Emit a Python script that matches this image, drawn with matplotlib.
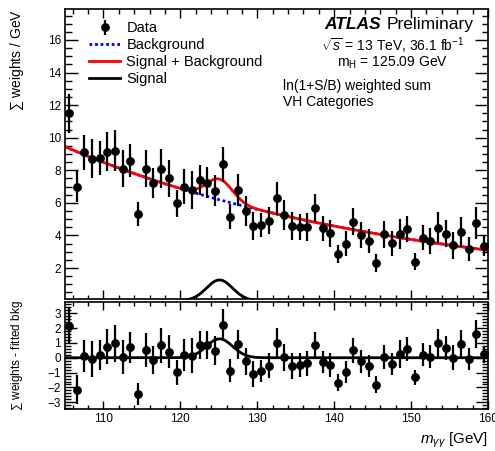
import numpy as np
import matplotlib
matplotlib.use("agg")
import matplotlib.pyplot as plt
from matplotlib.ticker import MultipleLocator

plt.rcParams["font.family"] = ["Liberation Sans", "DejaVu Sans"]
plt.rcParams["mathtext.fontset"] = "custom"
plt.rcParams["mathtext.rm"] = "Liberation Sans"
plt.rcParams["mathtext.it"] = "Liberation Sans:italic"
plt.rcParams["mathtext.bf"] = "Liberation Sans:bold"

# bin centres (1 GeV bins) and weighted sums
mass = np.arange(105.5, 160.0, 1.0)
weights = [11.5, 7.0, 9.1, 8.7, 8.75, 9.15, 9.2, 8.1, 8.6, 5.3,
           8.1, 7.25, 8.1, 7.5, 5.97, 7.0, 6.8, 7.38, 7.24, 6.75,
           8.37, 5.15, 6.8, 5.52, 4.58, 4.64, 4.9, 6.28, 5.25, 4.58,
           4.52, 4.52, 5.7, 4.44, 4.13, 2.86, 3.5, 4.85, 4.03, 3.66,
           2.3, 4.07, 3.52, 4.1, 4.4, 2.39, 3.86, 3.66, 4.48, 4.1,
           3.39, 4.23, 3.17, 4.78, 3.35]
errors = [1.18, 0.97, 1.07, 1.2, 1.02, 1.18, 1.25, 1.12, 1.04, 0.74,
          1.15, 0.92, 1.18, 1.12, 0.82, 1.07, 1.18, 0.92, 0.95, 0.95,
          1.06, 0.77, 0.97, 0.92, 0.87, 0.72, 0.82, 1.02, 0.92, 0.87,
          0.78, 0.86, 0.87, 0.76, 0.82, 0.56, 0.75, 0.82, 0.77, 0.74,
          0.56, 0.82, 0.75, 0.94, 0.8, 0.53, 0.77, 0.77, 0.97, 0.82,
          0.82, 0.92, 0.72, 0.97, 0.6]

# fitted shapes: bkg = exp(p0 + p1*t + p2*t^2), t = m - 105 ; signal gaussian
bkg_pars = [2.246, -0.0215, 2.22e-5]
sig_amp, sig_mean, sig_width = 1.27, 125.09, 1.7


def bkg(m):
    t = np.asarray(m) - 105.0
    return np.exp(bkg_pars[0] + bkg_pars[1] * t + bkg_pars[2] * t ** 2)


def sig(m):
    return sig_amp * np.exp(-0.5 * ((np.asarray(m) - sig_mean) / sig_width) ** 2)


mm = np.linspace(105, 160, 600)
resid = np.array(weights) - bkg(mass)

fig = plt.figure(figsize=(4.95, 4.51), dpi=100)
ax = fig.add_axes([0.1313, 0.337, 0.8546, 0.643])
rx = fig.add_axes([0.1313, 0.0931, 0.8546, 0.2373])

pt = 0.72  # points per pixel

# top panel
ax.plot(mm, bkg(mm), color="#0000ff", lw=2, ls=(0, (1, 1)), label="Background")
ax.plot(mm, bkg(mm) + sig(mm), color="#ff0000", lw=2, label="Signal + Background")
ax.plot(mm, sig(mm), color="black", lw=2, label="Signal")
dat = ax.errorbar(mass, weights, yerr=errors, fmt="o", color="black", ms=5.3,
                  elinewidth=1.6, capsize=0, label="Data", zorder=5)

ax.set_xlim(105, 160)
ax.set_ylim(0.1, 17.9)
ax.xaxis.set_major_locator(MultipleLocator(10))
ax.xaxis.set_minor_locator(MultipleLocator(2))
ax.yaxis.set_major_locator(MultipleLocator(2))
ax.yaxis.set_minor_locator(MultipleLocator(0.5))
ax.tick_params(which="both", direction="in", top=True, right=True, labelbottom=False,
               labelsize=8.5, width=1)
ax.tick_params(axis="y", which="major", length=13 * pt, pad=3)
ax.tick_params(axis="y", which="minor", length=6.5 * pt)
ax.tick_params(axis="x", which="major", length=9 * pt)
ax.tick_params(axis="x", which="minor", length=4.5 * pt)
for s in ax.spines.values():
    s.set_linewidth(1.2)
ax.set_ylabel(r"$\sum$ weights / GeV", loc="top", fontsize=10)
ax.yaxis.set_label_coords(-0.092, 1.0)

h, l = ax.get_legend_handles_labels()
order = [3, 0, 1, 2]
ax.legend([h[i] for i in order], [l[i] for i in order], loc="upper left",
          bbox_to_anchor=(0.035, 0.99), frameon=False, fontsize=10.5,
          handlelength=2.1, handletextpad=0.45, labelspacing=0.2, borderaxespad=0.25)

prelim = ax.text(0.965, 0.947, "Preliminary", transform=ax.transAxes,
                 ha="right", va="center", fontsize=12.5)
fig.canvas.draw()
bb = prelim.get_window_extent().transformed(ax.transAxes.inverted())
ax.text(bb.x0 - 0.012, 0.947, "ATLAS", transform=ax.transAxes, ha="right", va="center",
        fontsize=12.5, fontweight="bold", fontstyle="italic")
ax.text(0.775, 0.874, r"$\sqrt{s}$ = 13 TeV, 36.1 fb$^{-1}$", transform=ax.transAxes,
        ha="center", va="center", fontsize=10)
ax.text(0.775, 0.815, r"m$_{\rm H}$ = 125.09 GeV", transform=ax.transAxes,
        ha="center", va="center", fontsize=10)
ax.text(0.515, 0.735, "ln(1+S/B) weighted sum", transform=ax.transAxes,
        ha="left", va="center", fontsize=10)
ax.text(0.515, 0.679, "VH Categories", transform=ax.transAxes,
        ha="left", va="center", fontsize=10)

# residual panel
rx.plot(mm, sig(mm), color="black", lw=2)
rx.errorbar(mass, resid, yerr=errors, fmt="o", color="black", ms=5.3,
            elinewidth=1.6, capsize=0, zorder=5)
rx.set_xlim(105, 160)
rx.set_ylim(-3.45, 3.75)
rx.xaxis.set_major_locator(MultipleLocator(10))
rx.xaxis.set_minor_locator(MultipleLocator(2))
rx.yaxis.set_major_locator(MultipleLocator(1))
rx.yaxis.set_minor_locator(MultipleLocator(0.2))
rx.tick_params(which="both", direction="in", top=True, right=True, labelsize=8.5, width=1)
rx.tick_params(axis="y", which="major", length=12 * pt, pad=3)
rx.tick_params(axis="y", which="minor", length=6 * pt)
rx.tick_params(axis="x", which="major", length=8 * pt, pad=3)
rx.tick_params(axis="x", which="minor", length=4 * pt)
for s in rx.spines.values():
    s.set_linewidth(1.2)
rx.set_ylabel(r"$\sum$ weights - fitted bkg", fontsize=8.5)
rx.yaxis.set_label_coords(-0.095, 0.5)
rx.set_xlabel(r"$m_{\gamma\gamma}$ [GeV]", loc="right", fontsize=11)
rx.xaxis.set_label_coords(1.0, -0.2)

fig.savefig("out.png", dpi=100)
